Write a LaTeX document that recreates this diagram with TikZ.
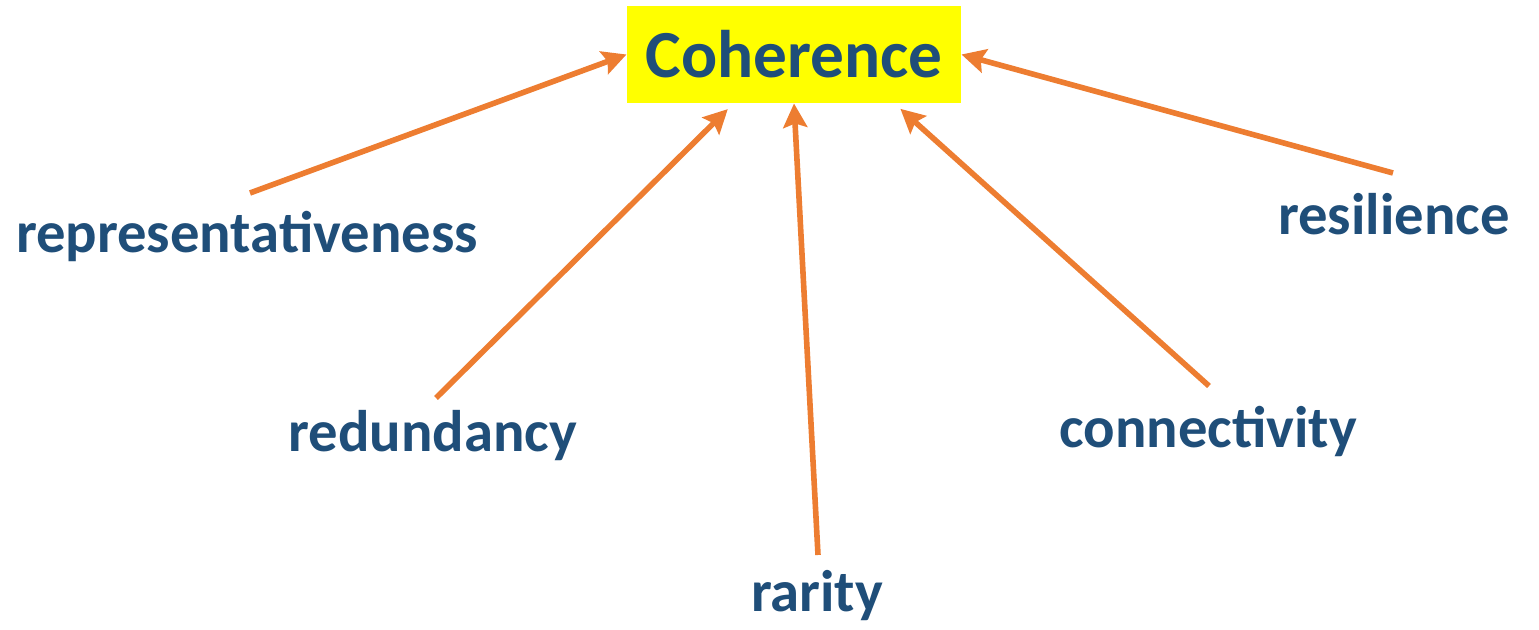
\documentclass[tikz,border=0pt]{standalone}
\usepackage{fontspec}
\setmainfont{Carlito}
\usetikzlibrary{arrows.meta}

\definecolor{labelblue}{RGB}{31,78,121}
\definecolor{arroworange}{RGB}{237,125,49}
\definecolor{boxyellow}{RGB}{255,255,0}

\tikzset{every picture/.style={line width=0.75pt}}
\tikzset{
  factor/.style={anchor=base,inner sep=0.75pt,text=labelblue,font=\fontsize{44}{52}\selectfont\bfseries},
  feeds/.style={draw=arroworange,line width=4.2pt,-{Stealth[length=18pt,width=18pt,inset=3pt]}}
}

\begin{document}
\begin{tikzpicture}[x=0.75pt,y=0.75pt,yscale=-1,xscale=1]
\path[use as bounding box] (0,0) rectangle (1539,630);

% Main box
\node (coh) [fill=boxyellow,inner sep=0pt,minimum width=250.5pt,minimum height=72.75pt,text=labelblue,font=\fontsize{50.5}{58}\selectfont\bfseries] at (794,54.5) {Coherence};

% Text Node
\node (rep) [factor] at (247,253) {representativeness};
% Text Node
\node (red) [factor] at (433,452) {redundancy};
% Text Node
\node (rar) [factor] at (817,612) {rarity};
% Text Node
\node (con) [factor] at (1208,448) {connectivity};
% Text Node
\node (res) [factor] at (1394,235) {resilience};

% arrow tails
\coordinate (rep-tail) at (250,193);
\coordinate (red-tail) at (436,398);
\coordinate (rar-tail) at (818,555);
\coordinate (con-tail) at (1209,386);
\coordinate (res-tail) at (1393,173);

%Straight Lines
\draw [feeds] (rep-tail) -- (coh.west);
\draw [feeds,shorten >=6pt] (red-tail) -- (coh.-141.5);
\draw [feeds] (rar-tail) -- (coh.south);
\draw [feeds,shorten >=6pt] (con-tail) -- (coh.-26.3);
\draw [feeds] (res-tail) -- (coh.east);

\end{tikzpicture}
\end{document}
